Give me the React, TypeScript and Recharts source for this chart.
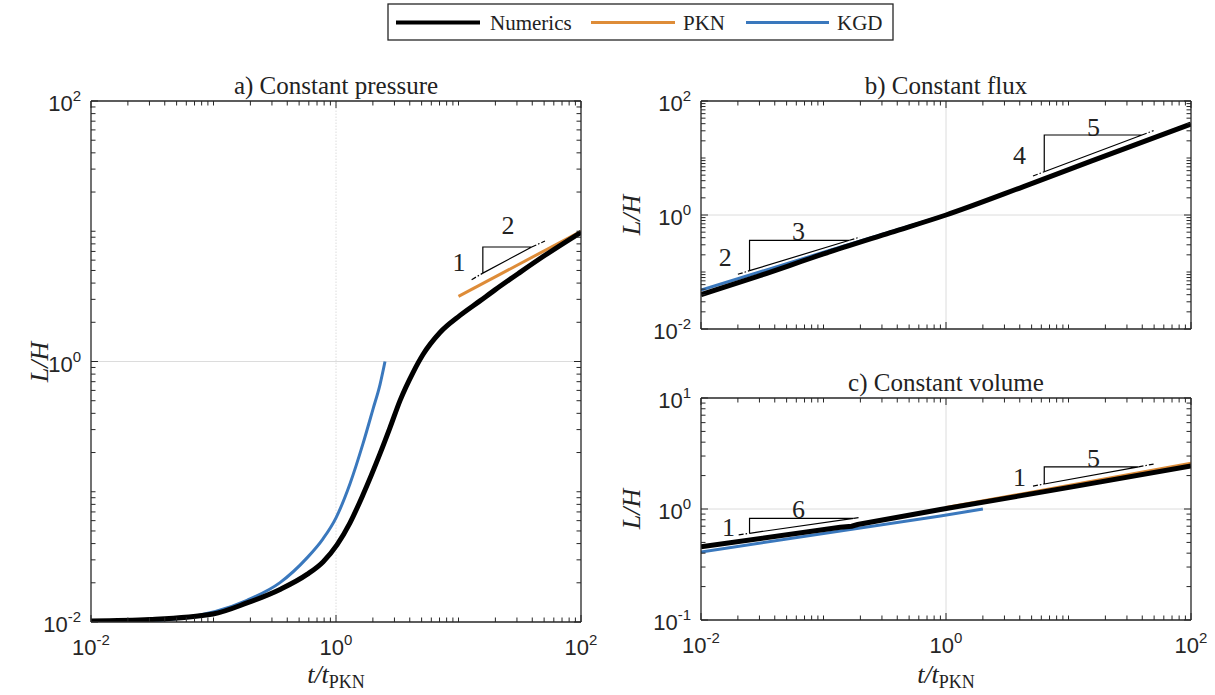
import React from 'react';
import { LineChart, Line, XAxis, YAxis, ReferenceLine, ReferenceDot } from 'recharts';

// a) constant pressure
const numericsA = [
  { t: 0.01, v: 0.01018 }, { t: 0.0303, v: 0.01045 }, { t: 0.0991, v: 0.01152 }, { t: 0.1877, v: 0.014 },
  { t: 0.349, v: 0.01778 }, { t: 0.58, v: 0.02319 }, { t: 0.783, v: 0.02894 }, { t: 1.019, v: 0.03911 },
  { t: 1.301, v: 0.05774 }, { t: 1.661, v: 0.09482 }, { t: 2.287, v: 0.196 }, { t: 2.76, v: 0.3107 },
  { t: 3.331, v: 0.5012 }, { t: 4.252, v: 0.823 }, { t: 5.131, v: 1.132 }, { t: 7.063, v: 1.671 },
  { t: 10.29, v: 2.259 }, { t: 14.98, v: 2.92 }, { t: 19.86, v: 3.548 }, { t: 31.77, v: 4.836 },
  { t: 50.83, v: 6.538 }, { t: 100, v: 9.82 },
];
const pknA = [{ t: 10, v: 3.16 }, { t: 100, v: 10 }];
const kgdA = [
  { t: 0.01, v: 0.00965 }, { t: 0.0533, v: 0.01068 }, { t: 0.1877, v: 0.01468 }, { t: 0.349, v: 0.02006 },
  { t: 0.58, v: 0.03107 }, { t: 0.783, v: 0.0435 }, { t: 1.0, v: 0.0631 }, { t: 1.301, v: 0.1152 },
  { t: 1.661, v: 0.2339 }, { t: 2.005, v: 0.4311 }, { t: 2.287, v: 0.6654 }, { t: 2.512, v: 1.0 },
];

// b) constant flux
const numericsB = [
  { t: 0.01, v: 0.04 }, { t: 0.0286, v: 0.083 }, { t: 0.1, v: 0.207 }, { t: 0.351, v: 0.49 },
  { t: 1, v: 1.0 }, { t: 4.3, v: 3.15 }, { t: 15.1, v: 8.7 }, { t: 100, v: 39.5 },
];
const kgdB = [{ t: 0.01, v: 0.048 }, { t: 0.1, v: 0.222 }, { t: 1, v: 1.0 }];

// c) constant volume
const numericsC = [
  { t: 0.01, v: 0.457 }, { t: 0.137, v: 0.684 }, { t: 0.17, v: 0.7 }, { t: 0.19, v: 0.725 },
  { t: 0.9, v: 0.99 }, { t: 11, v: 1.59 }, { t: 100, v: 2.44 },
];
const pknC = [{ t: 1, v: 1.03 }, { t: 100, v: 2.58 }];
const kgdC = [{ t: 0.01, v: 0.41 }, { t: 0.9, v: 0.865 }, { t: 2.0, v: 1.0 }];

// slope triangles (closed path) and dash-dot extensions of the hypotenuse
const triA = [{ t: 15.8, v: 4.77 }, { t: 15.8, v: 7.57 }, { t: 39.6, v: 7.57 }, { t: 15.8, v: 4.77 }];
const extA = [[{ t: 12.8, v: 4.25 }, { t: 15.8, v: 4.77 }], [{ t: 39.6, v: 7.57 }, { t: 50.8, v: 8.41 }]];
const triB1 = [{ t: 0.0249, v: 0.1055 }, { t: 0.0249, v: 0.36 }, { t: 0.163, v: 0.36 }, { t: 0.0249, v: 0.1055 }];
const extB1 = [[{ t: 0.02, v: 0.0912 }, { t: 0.0249, v: 0.1055 }], [{ t: 0.163, v: 0.36 }, { t: 0.197, v: 0.408 }]];
const triB2 = [{ t: 6.34, v: 5.75 }, { t: 6.34, v: 25.3 }, { t: 39.8, v: 25.3 }, { t: 6.34, v: 5.75 }];
const extB2 = [[{ t: 5.13, v: 4.83 }, { t: 6.34, v: 5.75 }], [{ t: 39.8, v: 25.3 }, { t: 49.5, v: 30.2 }]];
const triC1 = [{ t: 0.0249, v: 0.604 }, { t: 0.0249, v: 0.824 }, { t: 0.176, v: 0.824 }, { t: 0.0249, v: 0.604 }];
const extC1 = [[{ t: 0.0203, v: 0.585 }, { t: 0.0249, v: 0.604 }], [{ t: 0.176, v: 0.824 }, { t: 0.1995, v: 0.841 }]];
const triC2 = [{ t: 6.34, v: 1.68 }, { t: 6.34, v: 2.4 }, { t: 37.3, v: 2.4 }, { t: 6.34, v: 1.68 }];
const extC2 = [[{ t: 5.13, v: 1.61 }, { t: 6.34, v: 1.68 }], [{ t: 37.3, v: 2.4 }, { t: 49.5, v: 2.54 }]];

const labelsA = [{ t: 10.1, v: 5.78, text: '1' }, { t: 25.4, v: 11.1, text: '2' }];
const labelsB = [
  { t: 0.0158, v: 0.185, text: '2' }, { t: 0.0626, v: 0.531, text: '3' },
  { t: 3.99, v: 11.3, text: '4' }, { t: 16, v: 35.4, text: '5' },
];
const labelsC = [
  { t: 0.0168, v: 0.684, text: '1' }, { t: 0.0626, v: 1.0, text: '6' },
  { t: 3.99, v: 1.93, text: '1' }, { t: 16, v: 2.86, text: '5' },
];

const T_TICKS = [
  0.01, 0.02, 0.03, 0.04, 0.05, 0.06, 0.07, 0.08, 0.09,
  0.1, 0.2, 0.3, 0.4, 0.5, 0.6, 0.7, 0.8, 0.9,
  1, 2, 3, 4, 5, 6, 7, 8, 9,
  10, 20, 30, 40, 50, 60, 70, 80, 90, 100,
];
const LH_TICKS_C = [0.1, 0.2, 0.3, 0.4, 0.5, 0.6, 0.7, 0.8, 0.9, 1, 2, 3, 4, 5, 6, 7, 8, 9, 10];

const AXIS = '#262626';
const BLACK = '#000000';
const ORANGE = '#DE8C38';
const BLUE = '#3A78BD';
const GRID = '#dcdcdc';
const SANS = '"Liberation Sans", Arial, Helvetica, sans-serif';
const SERIF = '"Liberation Serif", "Times New Roman", serif';

// labelled (major) ticks: every `step` decades
const isMajor = (v: number, step: number) => {
  const e = Math.log10(v);
  const r = Math.round(e);
  return Math.abs(e - r) < 1e-6 && r % step === 0;
};

const Pow = ({ v }: { v: number }) => (
  <>
    10<tspan dy={-10} fontSize={15}>{Math.round(Math.log10(v))}</tspan>
  </>
);

const TickX = (props: any) => {
  const { x, y, payload, top, labels } = props;
  const major = isMajor(payload.value, 2);
  const len = major ? 7 : 4.5;
  return (
    <g>
      <line x1={x} x2={x} y1={y} y2={top ? y + len : y - len} stroke={AXIS} strokeWidth={1} />
      {labels && major && (
        <text x={x} y={y + 33} textAnchor="middle" fontFamily={SANS} fontSize={22} fill={AXIS}>
          <Pow v={payload.value} />
        </text>
      )}
    </g>
  );
};

const TickY = (props: any) => {
  const { x, y, payload, right, step } = props;
  const major = isMajor(payload.value, step);
  const len = major ? 7 : 4.5;
  return (
    <g>
      <line x1={x} x2={right ? x - len : x + len} y1={y} y2={y} stroke={AXIS} strokeWidth={1} />
      {!right && major && (
        <text x={x - 10} y={y + 10} textAnchor="end" fontFamily={SANS} fontSize={22} fill={AXIS}>
          <Pow v={payload.value} />
        </text>
      )}
    </g>
  );
};

const axisLine = { stroke: AXIS, strokeWidth: 1.3 };

// axes are 1px thick so that recharts still draws them; the margins below account for that
const axes = (yDomain: number[], yTicks: number[], yStep: number, xLabels: boolean) => [
  <XAxis key="xb" xAxisId="b" dataKey="t" type="number" scale="log" domain={[0.01, 100]} allowDataOverflow
    ticks={T_TICKS} interval={0} height={1} tickSize={0} tickMargin={0} tickLine={false}
    axisLine={axisLine} tick={<TickX labels={xLabels} />} />,
  <XAxis key="xt" xAxisId="t" orientation="top" dataKey="t" type="number" scale="log" domain={[0.01, 100]} allowDataOverflow
    ticks={T_TICKS} interval={0} height={1} tickSize={0} tickMargin={0} tickLine={false}
    axisLine={axisLine} tick={<TickX top />} />,
  <YAxis key="yl" yAxisId="l" type="number" scale="log" domain={yDomain} allowDataOverflow
    ticks={yTicks} interval={0} width={1} tickSize={0} tickMargin={0} tickLine={false}
    axisLine={axisLine} tick={<TickY step={yStep} />} />,
  <YAxis key="yr" yAxisId="r" orientation="right" type="number" scale="log" domain={yDomain} allowDataOverflow
    ticks={yTicks} interval={0} width={1} tickSize={0} tickMargin={0} tickLine={false}
    axisLine={axisLine} tick={<TickY right step={yStep} />} />,
];

const series = (key: string, data: any[], color: string, width: number, type: any = 'linear', dash?: string) => (
  <Line key={key} xAxisId="b" yAxisId="l" data={data} dataKey="v" type={type} stroke={color}
    strokeWidth={width} strokeDasharray={dash} dot={false} activeDot={false}
    isAnimationActive={false} legendType="none" />
);

const triangle = (key: string, tri: any[], ext: any[][]) => [
  series(key + '-tri', tri, BLACK, 1.2),
  series(key + '-e0', ext[0], BLACK, 1.2, 'linear', '5 2 1.5 2'),
  series(key + '-e1', ext[1], BLACK, 1.2, 'linear', '5 2 1.5 2'),
];

const slopeLabels = (list: any[]) =>
  list.map((l, i) => (
    <ReferenceDot key={'lab' + i} xAxisId="b" yAxisId="l" x={l.t} y={l.v} r={1}
      shape={(p: any) => (
        <text x={p.cx} y={p.cy + 9} textAnchor="middle" fontFamily={SERIF} fontSize={26} fill="#222">
          {l.text}
        </text>
      )} />
  ));

const grid = (dotted: boolean) => [
  <ReferenceLine key="gx" xAxisId="b" yAxisId="l" x={1} stroke={GRID} strokeWidth={1}
    strokeDasharray={dotted ? '1.5 1.5' : undefined} />,
  <ReferenceLine key="gy" xAxisId="b" yAxisId="l" y={1} stroke={GRID} strokeWidth={1} />,
];

const XLabel = ({ cx }: { cx: number }) => (
  <text x={cx} y={683} textAnchor="middle" fontFamily={SERIF} fill="#222">
    <tspan fontSize={26} fontStyle="italic">t/t</tspan>
    <tspan fontSize={18} dy={5}>PKN</tspan>
  </text>
);

const YLabel = ({ x, cy }: { x: number; cy: number }) => (
  <text x={x} y={cy} transform={`rotate(-90 ${x} ${cy})`} textAnchor="middle" fontFamily={SERIF}
    fontStyle="italic" fontSize={26} fill="#222">
    L/H
  </text>
);

const Title = ({ cx, y, text }: { cx: number; y: number; text: string }) => (
  <text x={cx} y={y} textAnchor="middle" fontFamily={SERIF} fontSize={25} fill="#222">
    {text}
  </text>
);

export default function App() {
  return (
    <div style={{ position: 'absolute', left: 0, top: 0, width: 1215, height: 695, background: '#fff' }}>
      <div style={{ position: 'absolute', left: 0, top: 0 }}>
        <LineChart width={600} height={695} margin={{ top: 100, left: 90, right: 18, bottom: 72 }}>
          {axes([0.01, 100], T_TICKS, 2, true)}
          {grid(true)}
          {series('pknA', pknA, ORANGE, 3)}
          {series('kgdA', kgdA, BLUE, 3, 'monotone')}
          {series('numA', numericsA, BLACK, 5, 'monotone')}
          {triangle('a', triA, extA)}
          {slopeLabels(labelsA)}
        </LineChart>
      </div>
      <div style={{ position: 'absolute', left: 610, top: 0 }}>
        <LineChart width={605} height={360} margin={{ top: 100, left: 90, right: 23, bottom: 30 }}>
          {axes([0.01, 100], T_TICKS, 2, false)}
          {grid(false)}
          {series('kgdB', kgdB, BLUE, 3)}
          {series('numB', numericsB, BLACK, 5, 'monotone')}
          {triangle('b1', triB1, extB1)}
          {triangle('b2', triB2, extB2)}
          {slopeLabels(labelsB)}
        </LineChart>
      </div>
      <div style={{ position: 'absolute', left: 610, top: 360 }}>
        <LineChart width={605} height={335} margin={{ top: 37, left: 90, right: 23, bottom: 74 }}>
          {axes([0.1, 10], LH_TICKS_C, 1, true)}
          {grid(false)}
          {series('pknC', pknC, ORANGE, 3)}
          {series('kgdC', kgdC, BLUE, 3)}
          {series('numC', numericsC, BLACK, 5)}
          {triangle('c1', triC1, extC1)}
          {triangle('c2', triC2, extC2)}
          {slopeLabels(labelsC)}
        </LineChart>
      </div>

      <svg width={1215} height={695} style={{ position: 'absolute', left: 0, top: 0, pointerEvents: 'none' }}>
        <Title cx={336} y={94} text="a) Constant pressure" />
        <Title cx={946} y={94} text="b) Constant flux" />
        <Title cx={946} y={391} text="c) Constant volume" />
        <YLabel x={48} cy={362} />
        <YLabel x={640} cy={215} />
        <YLabel x={640} cy={509} />
        <XLabel cx={336} />
        <XLabel cx={946} />

        {/* legend */}
        <rect x={388} y={4} width={505} height={36} fill="#fff" stroke={AXIS} strokeWidth={1.3} />
        <line x1={396} x2={480} y1={22.5} y2={22.5} stroke={BLACK} strokeWidth={4} />
        <text x={490} y={30} fontFamily={SERIF} fontSize={21} fill="#222">Numerics</text>
        <line x1={591} x2={675} y1={22.5} y2={22.5} stroke={ORANGE} strokeWidth={3} />
        <text x={683} y={30} fontFamily={SERIF} fontSize={21} fill="#222">PKN</text>
        <line x1={746} x2={829} y1={22.5} y2={22.5} stroke={BLUE} strokeWidth={3} />
        <text x={837} y={30} fontFamily={SERIF} fontSize={21} fill="#222">KGD</text>
      </svg>
    </div>
  );
}
